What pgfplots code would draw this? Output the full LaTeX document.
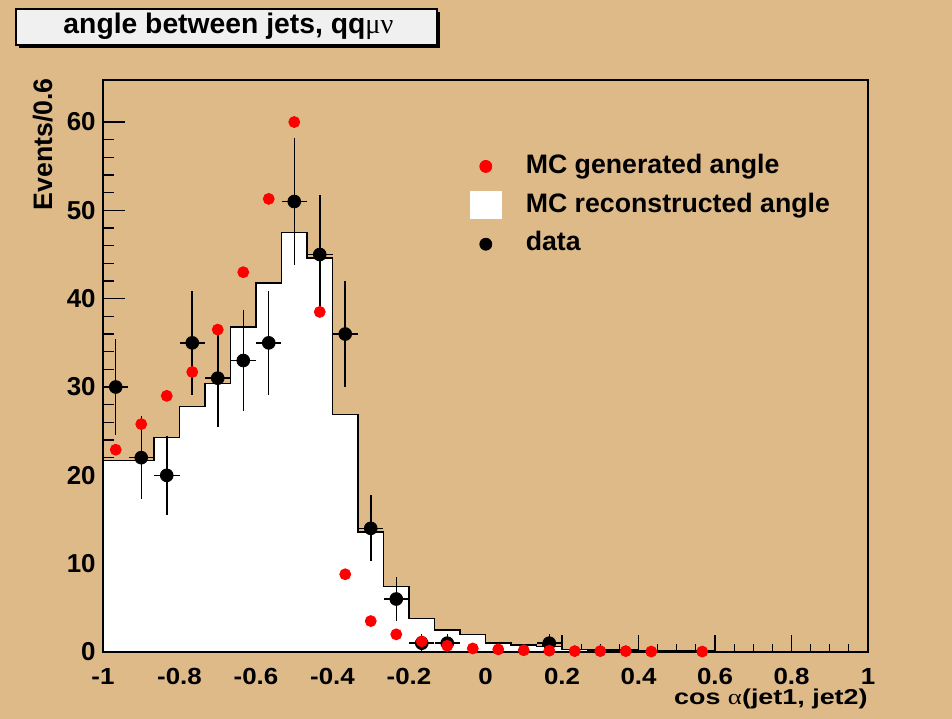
\documentclass[border=0pt]{standalone}
\usepackage{fontspec}
\setmainfont{Liberation Sans}
\newfontfamily\greekfont{Liberation Serif}
\usepackage{pgfplots}
\pgfplotsset{compat=1.18}
\definecolor{bg}{RGB}{222,186,136}
\definecolor{titlebg}{RGB}{240,240,240}
\begin{document}
\begin{tikzpicture}
\fill[bg] (0,0) rectangle (476bp,359.5bp);
\useasboundingbox (0,0) rectangle (476bp,359.5bp);
% title box
\fill[black] (9.5bp,335.5bp) rectangle (220bp,353.5bp);
\filldraw[fill=titlebg, draw=black, line width=0.6bp] (8bp,337bp) rectangle (218.5bp,355bp);
\node[font=\bfseries\fontsize{14.2}{16}\selectfont, anchor=base, inner sep=0pt] at (114.2bp,342.8bp) {angle between jets, qq{\greekfont\mdseries μν}};
\begin{axis}[
  at={(51.5bp,33.5bp)}, anchor=south west,
  scale only axis, width=382.5bp, height=286bp,
  xmin=-1, xmax=1, ymin=0, ymax=64.76,
  clip=false,
  axis background/.style={fill=bg},
  axis line style={line width=0.75bp, black},
  xtick={-1,-0.8,-0.6,-0.4,-0.2,0,0.2,0.4,0.6,0.8,1},
  ytick={0,10,20,30,40,50,60},
  minor x tick num=3, minor y tick num=4,
  tick align=inside, xtick pos=bottom, ytick pos=left,
  major tick length=11bp, minor tick length=5.5bp,
  xtick style={/pgfplots/major tick length=8.5bp, /pgfplots/minor tick length=4bp, line width=0.6bp, black},
  ytick style={line width=0.6bp, black},
  /pgf/number format/assume math mode=true,
  tick label style={font=\bfseries\fontsize{13}{15}\selectfont},
  xticklabel style={inner sep=0pt, yshift=-8bp, yscale=0.9},
  yticklabel style={inner sep=0pt, xshift=-3.5bp},
  legend style={draw=none, fill=none, at={(axis cs:-0.0405,56.55)}, anchor=north west,
    font=\bfseries\fontsize{13.4}{15}\selectfont, row sep=5.75bp, inner sep=0pt,
    nodes={inner sep=0pt, text height=9.5bp, text depth=2.8bp}},
  legend cell align=left,
]
\addlegendimage{legend image code/.code={\path[draw=none,fill=none] (0,-6.75bp) rectangle (27.5bp,6.75bp); \fill[red] (7.5bp,0) circle (3bp);}}
\addlegendentry{MC generated angle}
\addlegendimage{legend image code/.code={\path[draw=none,fill=none] (0,-6.75bp) rectangle (27.5bp,6.75bp); \fill[white] (0,-6.75bp) rectangle (15.5bp,6.75bp);}}
\addlegendentry{MC reconstructed angle}
\addlegendimage{legend image code/.code={\path[draw=none,fill=none] (0,-6.75bp) rectangle (27.5bp,6.75bp); \fill[black] (7.5bp,0) circle (3bp);}}
\addlegendentry{data}
% MC reconstructed histogram (bin left edges)
\addplot[const plot mark left, fill=white, draw=black, line width=0.75bp, forget plot] coordinates {
(-1.0000,21.7) (-0.9333,21.7) (-0.8667,24.3) (-0.8000,27.8) (-0.7333,30.4)
(-0.6667,36.8) (-0.6000,41.8) (-0.5333,47.5) (-0.4667,44.6) (-0.4000,26.9)
(-0.3333,13.6) (-0.2667,7.4) (-0.2000,3.8) (-0.1333,2.5) (-0.0667,2.0)
(0.0000,1.0) (0.0667,0.8) (0.1333,0.6) (0.2000,0.3) (0.2667,0.25)
(0.3333,0.2) (0.4000,0.15) (0.4667,0.1) (0.5333,0.1) (0.6000,0.05)
(0.6667,0.05) (0.7333,0.02) (0.8000,0.02) (0.8667,0.0) (0.9333,0.0) (1.0000,0.0)
} \closedcycle;
% data
\addplot[only marks, mark=*, mark size=3.2bp, black, forget plot,
  error bars/.cd, x dir=both, x explicit, y dir=both, y explicit,
  error bar style={line width=0.75bp, black}, error mark=none]
coordinates {
(-0.9667,30) +- (0.0333,5.477)
(-0.9000,22) +- (0.0333,4.690)
(-0.8333,20) +- (0.0333,4.472)
(-0.7667,35) +- (0.0333,5.916)
(-0.7000,31) +- (0.0333,5.568)
(-0.6333,33) +- (0.0333,5.745)
(-0.5667,35) +- (0.0333,5.916)
(-0.5000,51) +- (0.0333,7.141)
(-0.4333,45) +- (0.0333,6.708)
(-0.3667,36) +- (0.0333,6.000)
(-0.3000,14) +- (0.0333,3.742)
(-0.2333,6) +- (0.0333,2.449)
(-0.1667,1) +- (0.0333,1.000)
(-0.1000,1) +- (0.0333,1.000)
(0.1667,1) +- (0.0333,1.000)
};
% MC generated
\addplot[only marks, mark=*, mark size=2.75bp, red, forget plot] coordinates {
(-0.9667,22.9) (-0.9000,25.8) (-0.8333,29.0) (-0.7667,31.7) (-0.7000,36.5)
(-0.6333,43.0) (-0.5667,51.3) (-0.5000,60.0) (-0.4333,38.5) (-0.3667,8.8)
(-0.3000,3.5) (-0.2333,2.0) (-0.1667,1.2) (-0.1000,0.7) (-0.0333,0.4)
(0.0333,0.3) (0.1000,0.2) (0.1667,0.15) (0.2333,0.1) (0.3000,0.1)
(0.3667,0.1) (0.4333,0.05) (0.5667,0.05)
};
\end{axis}
\node[font=\bfseries\fontsize{13.4}{15}\selectfont, rotate=90, anchor=base east, inner sep=0pt] at (26.1bp,320.5bp) {Events/0.6};
\node[font=\bfseries\fontsize{13.5}{15}\selectfont, anchor=base east, inner sep=0pt, yscale=0.8] at (434bp,7.5bp) {cos {\greekfont\mdseries α}(jet1, jet2)};
\end{tikzpicture}
\end{document}
